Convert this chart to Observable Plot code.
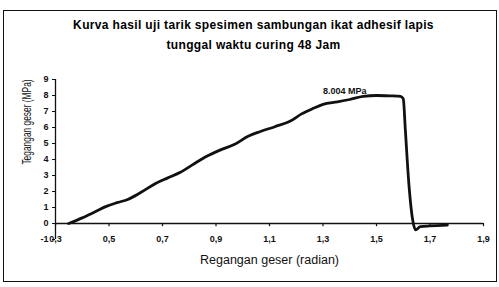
<!DOCTYPE html>
<html>
<head>
<meta charset="utf-8">
<script src="https://cdn.jsdelivr.net/npm/d3@7"></script>
<script src="https://cdn.jsdelivr.net/npm/@observablehq/plot@0.6"></script>
<style>
  html, body { margin: 0; padding: 0; background: #fff; }
  #wrap { position: relative; width: 499px; height: 287px; overflow: hidden; font-family: "Liberation Sans", Arial, sans-serif; }
  #border { position: absolute; left: 3px; top: 10px; width: 492px; height: 270px; border: 1.5px solid #111; pointer-events: none; }
  #title { position: absolute; left: 0; top: 15px; width: 499px; text-align: center; font-weight: 700; font-size: 12px; letter-spacing: 0.35px; line-height: 20px; color: #000; padding-left: 4px; }
  #ytitle { position: absolute; left: 27px; top: 122px; white-space: nowrap; font-size: 12.5px; color: #111; transform: translate(-50%, -50%) rotate(-90deg) scaleX(0.67); transform-origin: center center; }
</style>
</head>
<body>
<div id="wrap">
  <div id="chart"></div>
  <div id="title">Kurva hasil uji tarik spesimen sambungan ikat adhesif lapis<br>tunggal waktu curing 48 Jam</div>
  <div id="ytitle"></div>
  <div id="border"></div>
</div>
<script>
// Data
const strain = [0.349, 0.40, 0.45, 0.49, 0.53, 0.57, 0.62, 0.674, 0.72, 0.767, 0.82, 0.86, 0.917, 0.97, 1.02, 1.066, 1.12, 1.178, 1.22, 1.264, 1.30, 1.354, 1.40, 1.45, 1.50, 1.55, 1.59, 1.600, 1.608, 1.62, 1.635, 1.646, 1.664, 1.70, 1.765];
const stress = [0, 0.35, 0.75, 1.07, 1.3, 1.5, 1.95, 2.5, 2.85, 3.2, 3.75, 4.15, 4.6, 4.95, 5.45, 5.75, 6.05, 6.4, 6.85, 7.2, 7.45, 7.6, 7.75, 7.95, 8.0, 7.98, 7.95, 7.8, 5.8, 2.7, 0.25, -0.4, -0.2, -0.15, -0.1];
const xTicks = [0.3, 0.5, 0.7, 0.9, 1.1, 1.3, 1.5, 1.7, 1.9];
const yTicks = [-1, 0, 1, 2, 3, 4, 5, 6, 7, 8, 9];
const peakLabel = ["8.004 MPa"];
const peakPos = {x: 1.30, y: 8.25};
const xTitle = "Regangan geser (radian)";
const yTitle = "Tegangan geser (MPa)";

document.getElementById("ytitle").textContent = yTitle;

const data = strain.map((s, i) => ({x: s, y: stress[i]}));
const fmtComma = d => d.toFixed(1).replace(".", ",");

const chart = Plot.plot({
  width: 499,
  height: 287,
  marginLeft: 55,
  marginRight: 16,
  marginTop: 79,
  marginBottom: 48,
  style: {fontFamily: "Liberation Sans, Arial, sans-serif", color: "#111", background: "#fff"},
  x: {domain: [0.3, 1.9], axis: null},
  y: {domain: [-1, 9], axis: null},
  marks: [
    // y axis
    Plot.ruleX([0.3], {y1: -1, y2: 9, stroke: "#111", strokeWidth: 1.3}),
    Plot.axisY({ticks: yTicks, tickSize: 3, tickPadding: 4, tickFormat: d => String(d), label: null, fontSize: 9, fontWeight: "bold", stroke: "#111"}),
    // x axis at y = 0
    Plot.ruleY([0], {x1: 0.3, x2: 1.9, stroke: "#111", strokeWidth: 1.3}),
    Plot.ruleX(xTicks, {x: d => d, y1: 0, y2: -0.2, stroke: "#111", strokeWidth: 1.2}),
    Plot.text(xTicks, {x: d => d, y: -1, text: d => fmtComma(d), fontSize: 9, fontWeight: "bold", fill: "#111"}),
    // curve
    Plot.line(data, {x: "x", y: "y", stroke: "#111", strokeWidth: 2.8, curve: "monotone-x", strokeLinejoin: "round"}),
    // peak label
    Plot.text(peakLabel, {x: () => peakPos.x, y: () => peakPos.y, text: d => d, textAnchor: "start", fontSize: 9, fontWeight: "bold", fill: "#111"}),
    // x axis title
    Plot.text([xTitle], {frameAnchor: "bottom", text: d => d, dy: 24, fontSize: 12.5, fill: "#111"})
  ]
});
document.getElementById("chart").appendChild(chart);
</script>
</body>
</html>
